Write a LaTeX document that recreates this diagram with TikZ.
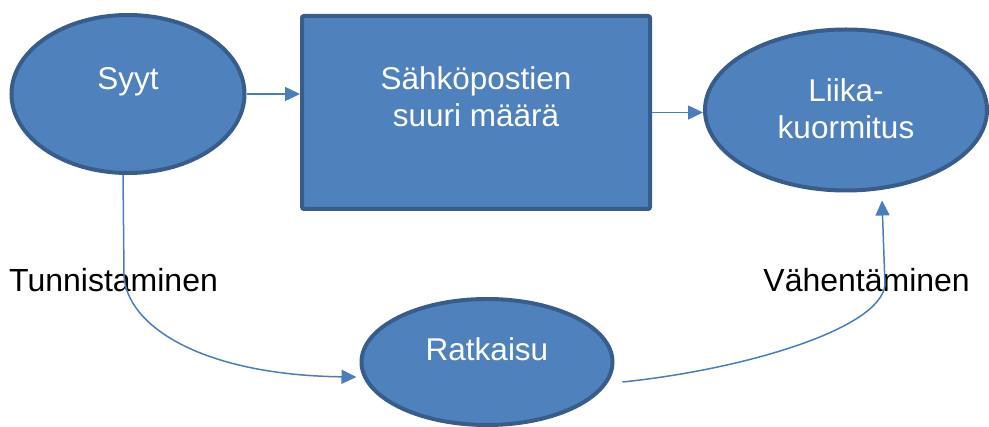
\documentclass[tikz,border=0pt]{standalone}
\usepackage{fontspec}
\setmainfont{Liberation Sans}
\usetikzlibrary{shapes.geometric,arrows.meta}
\definecolor{boxfill}{HTML}{4F81BD}
\definecolor{boxline}{HTML}{385D8A}
\definecolor{arrowline}{HTML}{4A7EBB}
\begin{document}
\begin{tikzpicture}[x=1pt,y=-1pt,
        blob/.style={draw=boxline,fill=boxfill,line width=4pt,text=white,inner sep=0pt,
            font=\fontsize{31.5}{37}\selectfont,align=center},
        conn/.style={draw=arrowline,line width=1.5pt,-{Triangle[length=15pt,width=14pt]}},
        lbl/.style={inner sep=0pt,font=\fontsize{32}{37}\selectfont}]
        \useasboundingbox (0,0) rectangle (989,427);
        \node [blob,ellipse,minimum width=233pt,minimum height=158pt,text height=22pt,text depth=30pt] (syyt) at (128,94) {Syyt};
        \node [blob,rectangle,rounded corners=2pt,minimum width=348pt,minimum height=193pt,text height=60pt,text depth=31pt] (maara) at (476,112.5) {Sähköpostien\\suuri määrä};
        \node [blob,ellipse,minimum width=282pt,minimum height=161pt,text height=62pt,text depth=4pt] (liika) at (846,110) {Liika-\\kuormitus};
        \node [blob,ellipse,minimum width=251pt,minimum height=126pt,text height=23pt,text depth=25pt] (ratkaisu) at (487,362) {Ratkaisu};
        \node [lbl,anchor=base west] (tunn) at (9,292) {Tunnistaminen};
        \node [lbl,anchor=base east] (vahen) at (970,292) {Vähentäminen};
        \draw [conn] (syyt.east) -- (syyt.east -| maara.west);
        \draw [conn] (maara.east) -- (maara.east -| liika.west);
        \draw [conn] ([xshift=-5pt]syyt.south) -- ++(1,100) .. controls +(2,50) and (200,375) .. ([xshift=-3pt,yshift=-15pt]ratkaisu.west);
        \draw [conn] ([xshift=8pt,yshift=-20pt]ratkaisu.east) .. controls (740,370) and (880,330) .. (885,285) -- ([xshift=36pt,yshift=-8pt]liika.south);
\end{tikzpicture}
\end{document}
